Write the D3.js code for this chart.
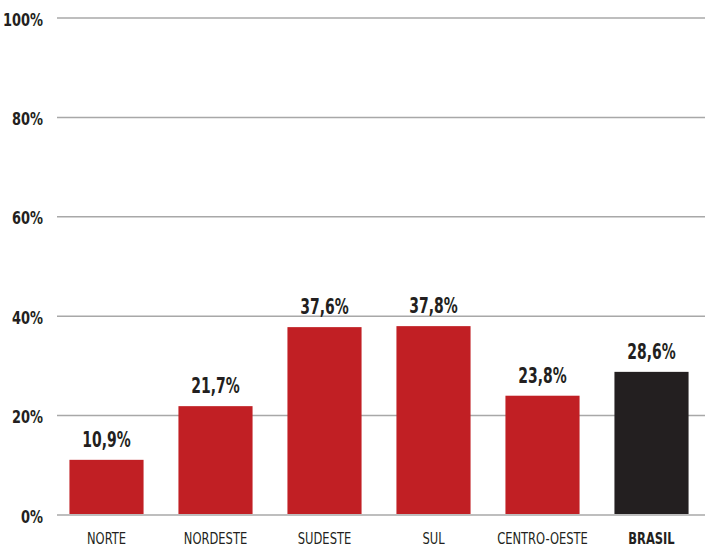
<!DOCTYPE html>
<html><head><meta charset="utf-8">
<script src="https://cdn.jsdelivr.net/npm/d3@7"></script>
<style>
body{margin:0;background:#fff;}
text{font-family:"DejaVu Sans Condensed","DejaVu Sans",sans-serif;font-stretch:condensed;}
</style></head>
<body><svg id="c" width="705" height="548"></svg>
<script>
const categories = ["NORTE","NORDESTE","SUDESTE","SUL","CENTRO-OESTE","BRASIL"];
const values = [10.9, 21.7, 37.6, 37.8, 23.8, 28.6];
const valueLabels = ["10,9%","21,7%","37,6%","37,8%","23,8%","28,6%"];
const yTicks = [0,20,40,60,80,100];
const yTickLabels = ["0%","20%","40%","60%","80%","100%"];

const svg = d3.select("#c");
const x = d3.scaleBand().domain(categories).range([52,706]).paddingInner(0.32).paddingOuter(0.16);
const y = d3.scaleLinear().domain([0,100]).range([515,18]);

// gridlines
svg.append("g").selectAll("line").data(yTicks).join("line")
  .attr("x1",57).attr("x2",705)
  .attr("y1",d=>y(d)).attr("y2",d=>y(d))
  .attr("stroke","#a8a8a8").attr("stroke-width",1.5);

svg.append("g").selectAll("text").data(yTicks).join("text")
  .attr("transform",d=>`translate(43,${y(d)+7.5}) scale(0.8,1)`)
  .attr("text-anchor","end")
  .attr("font-size",18).attr("font-weight","bold").attr("fill","#231f20")
  .text((d,i)=>yTickLabels[i]);

// bars
svg.append("g").selectAll("rect").data(values).join("rect")
  .attr("x",(d,i)=>x(categories[i]))
  .attr("width",x.bandwidth())
  .attr("y",d=>y(d)-1)
  .attr("height",d=>y(0)-y(d))
  .attr("fill",(d,i)=>categories[i]==="BRASIL"?"#231f20":"#c11f24");

// value labels
svg.append("g").selectAll("text").data(values).join("text")
  .attr("transform",(d,i)=>`translate(${x(categories[i])+x.bandwidth()/2},${y(d)-14}) scale(0.74,1)`)
  .attr("text-anchor","middle")
  .attr("font-size",21).attr("font-weight","bold").attr("fill","#231f20")
  .text((d,i)=>valueLabels[i]);

// category labels
svg.append("g").selectAll("text").data(categories).join("text")
  .attr("transform",d=>`translate(${x(d)+x.bandwidth()/2},544) scale(0.8,1)`)
  .attr("text-anchor","middle")
  .attr("font-size",16)
  .attr("font-weight",d=>d==="BRASIL"?"bold":"normal")
  .attr("fill","#231f20")
  .text(d=>d);
</script></body></html>
